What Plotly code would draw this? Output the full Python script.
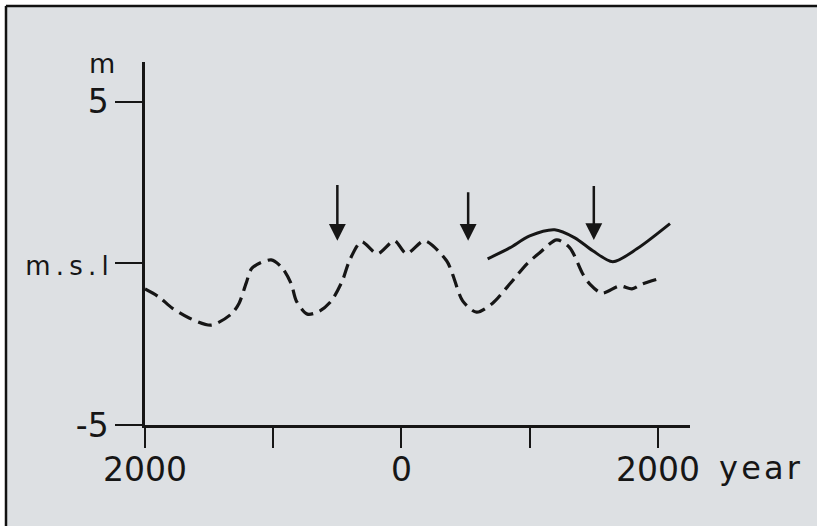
import plotly.graph_objects as go

# ---- data ----
dash_years = [-2000, -1891, -1789, -1656, -1484, -1328, -1266, -1211, -1164, -1016,
              -930, -859, -820, -734, -641, -547, -461, -406, -313, -188, -55, 39,
              180, 352, 398, 477, 586, 711, 844, 977, 1078, 1211, 1313, 1414, 1469,
              1563, 1703, 1797, 1875, 2000]
dash_level = [-0.79, -1.04, -1.38, -1.69, -1.91, -1.57, -1.23, -0.61, -0.14, 0.11,
              -0.14, -0.64, -1.16, -1.57, -1.48, -1.16, -0.54, 0.08, 0.67, 0.30, 0.70, 0.30,
              0.70, 0.08, -0.33, -1.16, -1.51, -1.23, -0.64, -0.02, 0.33, 0.73, 0.48, -0.33, -0.64,
              -0.92, -0.70, -0.79, -0.64, -0.48]

solid_years = [672, 844, 1000, 1195, 1352, 1492, 1648, 1836, 2094]
solid_level = [0.14, 0.48, 0.85, 1.04, 0.79, 0.39, 0.05, 0.45, 1.23]

arrow_years = [-500, 520, 1500]
arrow_top = [2.47, 2.25, 2.44]
arrow_tip = [0.70, 0.70, 0.72]

x_tickvals = [-2000, -1000, 0, 1000, 2000]
x_ticktext = ["2000", "", "0", "", "2000"]
y_tickvals = [-5, 0, 5]
y_ticktext = ["-5", "<span style='font-size:26px'>m\u2009.\u2009s\u2009.\u2009l</span>", "5"]

BG = "#dde0e3"
INK = "#161616"
FONT = "DejaVu Sans"

fig = go.Figure()
fig.add_trace(go.Scatter(x=dash_years, y=dash_level, mode="lines",
                         line=dict(color=INK, width=3.2, dash="14px,7px", shape="spline", smoothing=0.8),
                         hoverinfo="skip", showlegend=False))
fig.add_trace(go.Scatter(x=solid_years, y=solid_level, mode="lines",
                         line=dict(color=INK, width=3, shape="spline", smoothing=0.8),
                         hoverinfo="skip", showlegend=False))

annotations = []
for xa, yt, yp in zip(arrow_years, arrow_top, arrow_tip):
    annotations.append(dict(x=xa, y=yp, ax=xa, ay=yt, xref="x", yref="y", axref="x", ayref="y",
                            text="", showarrow=True, arrowhead=2, arrowsize=1.35, arrowwidth=2.5,
                            arrowcolor=INK, standoff=0))

W, H = 817, 526
L, R, T, B = 145, 127, 62, 101
pw, ph = W - L - R, H - T - B
def px(x):
    return (x - L) / pw
def py(y):
    return (H - B - y) / ph

annotations.append(dict(text="y\u200ae\u200aa\u200ar", x=px(717), y=py(481), xref="paper", yref="paper",
                        xanchor="left", yanchor="bottom", showarrow=False, yshift=-8,
                        font=dict(family=FONT, size=32, color=INK)))
annotations.append(dict(text="m", x=px(102), y=py(63), xref="paper", yref="paper",
                        xanchor="center", yanchor="middle", showarrow=False,
                        font=dict(family=FONT, size=27, color=INK)))

shapes = [
    dict(type="rect", xref="paper", yref="paper", x0=px(5), x1=px(W), y0=py(H), y1=py(5),
         fillcolor=BG, line=dict(width=0, color=BG), layer="below"),
    dict(type="line", xref="paper", yref="paper", x0=px(6), x1=px(W), y0=py(6), y1=py(6),
         line=dict(color="#111111", width=2.5), layer="below"),
    dict(type="line", xref="paper", yref="paper", x0=px(6), x1=px(6), y0=py(6), y1=py(H),
         line=dict(color="#111111", width=2.5), layer="below"),
]

fig.update_layout(
    width=W, height=H, autosize=False,
    margin=dict(l=L, r=R, t=T, b=B, pad=0),
    paper_bgcolor="white", plot_bgcolor="rgba(0,0,0,0)",
    font=dict(family=FONT, color=INK),
    showlegend=False,
    annotations=annotations,
    shapes=shapes,
    xaxis=dict(range=[-2000, 2250], tickvals=x_tickvals, ticktext=x_ticktext,
               showline=True, linewidth=2.5, linecolor=INK, ticks="outside", ticklen=20,
               tickwidth=2, tickcolor=INK, showgrid=False, zeroline=False,
               ticklabelstandoff=-6,
               tickfont=dict(family=FONT, size=33, color=INK)),
    yaxis=dict(range=[-5, 6.23], tickvals=y_tickvals, ticktext=y_ticktext,
               showline=True, linewidth=2.5, linecolor=INK, ticks="outside", ticklen=27,
               tickwidth=2, tickcolor=INK, showgrid=False, zeroline=False,
               tickfont=dict(family=FONT, size=33, color=INK)),
)

fig.write_html("out.html", config={"displayModeBar": False},
               post_script="document.body.style.margin='0';document.body.style.overflow='hidden';")
